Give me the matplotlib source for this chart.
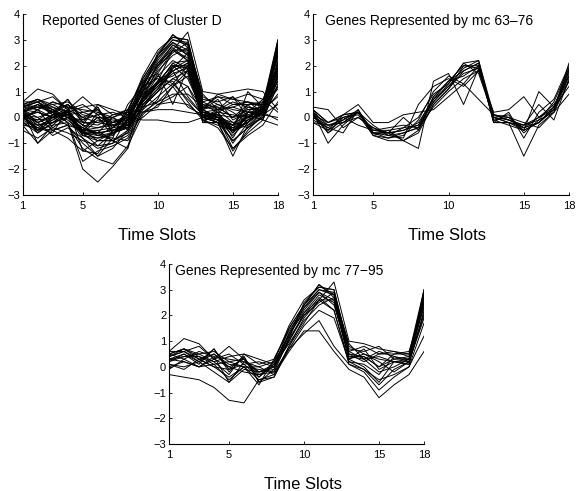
import numpy as np
import matplotlib
matplotlib.use('Agg')
import matplotlib.pyplot as plt

plt.rcParams['font.family'] = ['Liberation Sans', 'DejaVu Sans']

slots = np.arange(1, 19)

# genes represented by mc 63-76
mc63_76 = [
    [0.3, -0.2, 0.0, 0.2, -0.5, -0.6, -0.5, -0.2, 0.7, 1.2, 1.7, 1.9, 0.0, -0.1, -0.3, 0.0, 0.4, 1.8],
    [0.2, -1.0, -0.3, 0.2, -0.6, -0.8, -0.6, -0.4, 0.6, 1.3, 2.1, 2.2, 0.1, 0.0, -0.5, -0.2, 0.3, 2.1],
    [0.0, -0.4, -0.6, 0.3, -0.7, -0.5, -0.9, -1.2, 1.4, 1.7, 0.5, 1.9, 0.0, -0.2, -1.5, -0.3, 0.2, 1.6],
    [-0.2, -0.5, 0.1, 0.5, -0.2, -0.2, 0.1, 0.2, 0.3, 0.8, 1.3, 2.0, -0.2, 0.2, -0.8, 0.2, 0.7, 2.0],
    [0.4, 0.3, -0.4, 0.0, -0.4, -0.7, -0.8, 0.5, 1.2, 1.5, 1.2, 1.8, 0.2, 0.3, 0.8, 0.0, 0.5, 1.4],
    [0.1, -0.6, 0.0, 0.1, -0.7, -0.9, -0.9, -0.6, 0.5, 1.1, 1.8, 2.1, -0.1, -0.3, -0.5, 1.0, 0.4, 1.2],
    [0.2, -0.3, -0.1, 0.2, -0.6, -0.6, 0.0, -0.5, 0.8, 1.4, 2.0, 2.0, -0.2, -0.2, -0.3, 0.5, -0.1, 1.5],
    [-0.1, -0.4, 0.0, -0.3, -0.5, -0.4, -0.3, -0.4, 0.4, 1.0, 1.5, 1.8, 0.1, 0.0, -0.2, -0.4, 0.2, 0.9],
    [0.3, -0.2, 0.1, 0.2, -0.3, -0.7, -0.4, 0.0, 0.9, 1.3, 2.1, 1.7, 0.0, 0.1, -0.6, -0.1, 0.6, 1.9],
    [0.0, -0.3, -0.2, 0.2, -0.7, -0.8, -0.7, -0.1, 1.0, 1.6, 1.3, 0.7, 0.1, -0.1, -0.4, -0.2, 0.3, 1.7],
    [0.3, -0.5, -0.1, 0.3, -0.6, -0.6, -0.5, -0.3, 0.6, 1.2, 1.9, 2.2, -0.1, 0.0, -0.4, 0.0, 0.3, 1.9],
    [0.1, -0.2, 0.1, 0.2, -0.6, -0.7, -0.6, -0.4, 0.7, 1.4, 1.6, 2.0, 0.0, -0.2, -0.5, -0.2, 0.4, 1.6],
    [0.2, -0.6, -0.2, 0.0, -0.4, -0.6, -0.9, -0.5, 0.5, 1.1, 2.0, 1.9, 0.1, -0.1, -0.3, -0.1, 0.2, 1.4],
    [-0.2, -0.3, -0.2, 0.2, -0.5, -0.5, -0.4, -0.3, 0.8, 1.4, 1.8, 2.1, -0.2, -0.2, -0.4, -0.2, 0.4, 1.8],
]

# genes represented by mc 77-95
mc77_95 = [
    [0.4, 0.6, 0.3, 0.0, -0.1, 0.1, -0.4, 0.2, 1.2, 2.2, 2.9, 2.6, 0.5, 0.4, 0.0, 0.3, 0.3, 2.6],
    [0.6, 1.1, 0.9, 0.3, 0.8, 0.3, -0.2, 0.0, 1.5, 2.4, 3.2, 2.8, 0.8, 0.5, 0.3, 0.2, 0.2, 3.0],
    [0.2, 0.5, 0.2, 0.7, -0.2, 0.4, -0.6, -0.4, 0.8, 1.9, 2.6, 3.3, 1.0, 0.9, 0.7, 0.6, 0.4, 2.8],
    [0.5, 0.7, 0.4, 0.1, -0.5, 0.0, -0.7, 0.3, 1.4, 2.3, 3.0, 2.9, 0.3, 0.0, -0.6, 0.2, 0.1, 2.2],
    [-0.3, -0.4, -0.5, -0.8, -1.3, -1.4, -0.5, -0.3, 0.6, 1.4, 1.4, 0.6, -0.1, -0.4, -1.2, -0.7, -0.3, 0.6],
    [0.0, 0.2, 0.0, 0.3, 0.0, -0.2, -0.3, -0.2, 0.7, 1.3, 1.8, 0.8, 0.1, -0.2, -0.9, -0.4, 0.0, 1.2],
    [0.3, 0.4, 0.5, 0.2, 0.4, 0.5, 0.3, 0.1, 1.0, 2.0, 2.7, 2.2, 0.2, 0.1, -0.3, 0.4, 0.2, 1.9],
    [0.4, 0.7, 0.3, 0.5, 0.1, 0.0, -0.1, -0.2, 1.1, 2.5, 3.1, 3.0, 0.6, 0.8, 0.5, 0.5, 0.6, 2.5],
    [0.1, 0.0, 0.2, -0.2, -0.6, -0.1, -0.2, 0.1, 0.9, 1.8, 2.4, 2.7, 0.4, 0.3, -0.2, 0.0, 0.3, 2.4],
    [0.5, 0.3, 0.6, 0.4, 0.3, 0.2, 0.0, 0.2, 1.6, 2.6, 3.1, 3.0, 0.7, 0.6, 0.8, 0.3, 0.4, 2.9],
    [0.3, 0.5, 0.1, 0.7, -0.1, 0.4, -0.6, -0.1, 1.3, 2.1, 2.8, 2.5, 0.3, 0.5, 0.2, -0.2, 0.2, 2.0],
    [0.6, 0.6, 0.8, 0.3, 0.5, 0.1, 0.2, 0.0, 1.2, 2.3, 2.9, 2.4, 0.5, 0.2, 0.5, 0.6, 0.5, 3.0],
    [-0.1, 0.3, 0.0, 0.1, 0.2, 0.0, -0.5, -0.4, 0.7, 1.6, 2.2, 1.9, 0.2, -0.1, -0.5, -0.3, 0.0, 1.7],
    [0.2, 0.4, 0.4, 0.2, -0.3, 0.5, 0.1, 0.3, 1.5, 2.4, 3.0, 2.8, 0.9, 0.3, 0.4, 0.2, 0.3, 2.7],
    [0.4, 0.6, 0.2, 0.5, 0.0, 0.3, -0.3, 0.0, 1.1, 2.0, 2.5, 2.9, 0.4, 0.4, 0.0, 0.5, 0.5, 2.3],
    [0.1, -0.1, 0.3, 0.0, -0.4, 0.0, 0.0, -0.3, 0.8, 1.7, 2.6, 2.2, 0.1, -0.1, -0.7, -0.1, 0.2, 2.1],
    [0.5, 0.7, 0.5, 0.6, 0.2, 0.3, -0.4, 0.1, 1.3, 2.4, 3.2, 2.7, 0.6, 0.3, 0.6, 0.4, 0.3, 2.8],
    [0.3, 0.2, 0.0, 0.4, -0.6, 0.2, -0.2, -0.1, 1.0, 2.1, 2.6, 2.6, 0.3, 0.7, -0.1, 0.2, 0.1, 2.5],
]

# other reported genes of cluster D (not in the two groups above)
others_d = [
    [0.0, -0.5, -0.3, -0.2, -2.0, -2.5, -1.9, -1.2, 0.5, 1.0, 1.5, 1.2, 0.0, 0.2, -0.5, 0.0, 0.3, 0.8],
    [0.2, 0.5, 0.3, -0.2, -1.7, -1.3, -1.1, -0.8, 0.2, 0.6, 1.2, 0.4, 0.1, 0.0, -0.3, 0.2, 0.1, 0.5],
    [0.0, -0.1, 0.0, 0.1, -0.3, -0.4, -0.2, 0.0, -0.1, -0.1, -0.2, -0.2, 0.0, 0.1, 0.0, 0.1, -0.1, -0.3],
    [0.1, 0.2, 0.0, 0.1, -0.2, -0.3, 0.0, 0.3, 0.2, 0.3, 0.3, 0.2, 0.1, 0.2, 0.1, 0.0, 0.1, 0.0],
    [-0.3, -1.0, -0.5, -0.3, -1.0, -1.5, -1.2, -0.5, 0.8, 0.5, 0.8, 1.2, 0.3, 0.9, 1.0, 1.1, 1.0, 0.3],
    [0.5, 0.4, 0.2, 0.0, -0.8, -1.2, -1.0, 0.0, 0.4, 0.6, 0.9, 0.9, 0.4, 0.8, 0.7, 0.9, 0.7, 0.2],
    [0.3, 0.0, -0.5, -0.3, -1.2, -1.6, -1.8, -1.1, 0.1, 0.7, 2.0, 1.5, 0.2, 0.0, -1.0, -0.2, 0.4, 1.1],
    [-0.5, -0.8, -0.4, -0.6, -0.9, -1.1, -1.0, -0.7, 0.3, 1.4, 2.6, 2.3, 0.1, -0.1, -0.9, -0.4, 0.0, 1.6],
    [0.0, 0.3, 0.6, 0.4, -1.3, -0.9, -0.6, -0.3, 0.0, 0.5, 0.6, 0.5, 0.0, 0.3, 0.4, 0.6, 0.2, -0.1],
    [-0.2, -0.6, -0.2, 0.0, -0.5, -0.9, -0.9, -0.6, 0.4, 1.0, 1.9, 2.5, 0.0, -0.2, -1.3, -0.5, 0.1, 2.6],
    [0.4, 0.6, 0.1, -0.1, -0.6, -1.1, -0.6, -0.2, 1.0, 2.0, 2.8, 2.4, 0.2, 0.1, -0.6, 0.1, 0.3, 2.4],
    [0.1, -0.2, -0.7, -0.4, -0.8, -1.5, -0.8, -0.9, 0.2, 0.4, 1.2, 1.6, 0.3, 0.0, -1.2, -0.6, -0.1, 1.3],
]

cluster_d = mc63_76 + mc77_95 + others_d

panels = [
    ('Reported Genes of Cluster D', cluster_d, [0.0394, 0.6029, 0.4430, 0.3686], 0.075),
    ('Genes Represented by mc 63\u201376', mc63_76, [0.5434, 0.6029, 0.4444, 0.3686], 0.047),
    ('Genes Represented by mc 77\u221295', mc77_95, [0.2934, 0.0957, 0.4427, 0.3666], 0.024),
]

fig = plt.figure(figsize=(5.76, 4.91), dpi=100)

for title, genes, rect, tx in panels:
    ax = fig.add_axes(rect)
    for g in genes:
        ax.plot(slots, g, color='black', lw=0.7)
    ax.set_xlim(1, 18)
    ax.set_ylim(-3, 4)
    ax.set_xticks([1, 5, 10, 15, 18])
    ax.set_yticks(range(-3, 5))
    ax.set_yticklabels([str(v).replace('-', '\u2212') for v in range(-3, 5)])
    ax.spines['top'].set_visible(False)
    ax.spines['right'].set_visible(False)
    ax.spines['left'].set_linewidth(0.8)
    ax.spines['bottom'].set_linewidth(0.8)
    ax.tick_params(direction='in', length=2.5, width=0.6, labelsize=8)
    ax.tick_params(axis='x', pad=4)
    ax.tick_params(axis='y', pad=2)
    ax.text(tx, 0.998, title, transform=ax.transAxes, fontsize=10, va='top', ha='left')
    ax.set_xlabel('Time Slots', fontsize=12)
    ax.xaxis.set_label_coords(0.525, -0.225)
    ax.xaxis.label.set_va('center')

plt.savefig('out.png', dpi=100)
